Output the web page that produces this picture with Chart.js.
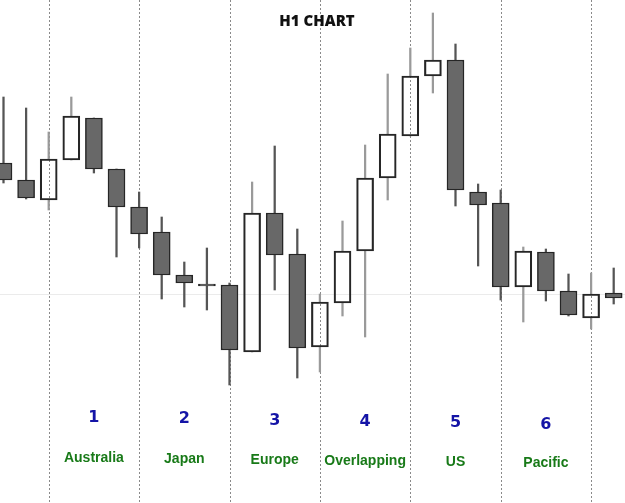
<!DOCTYPE html>
<html><head><meta charset="utf-8">
<style>html,body{margin:0;padding:0;background:#fff}#wrap{width:625px;height:503px;position:relative}</style>
</head><body>
<div id="wrap"><canvas id="c" width="625" height="503"></canvas></div>
<script src="https://cdn.jsdelivr.net/npm/chart.js@4/dist/chart.umd.min.js"></script>
<script>
// H1 candles (price)
const opens  = [1.2131,1.2114,1.2094,1.2134,1.2176,1.2125,1.2087,1.2062,1.2019,1.2010,1.2009,1.1942,1.2081,1.2040,1.1947,1.1991,1.2043,1.2116,1.2158,1.2218,1.2234,1.2102,1.2091,1.2007,1.2042,1.2003,1.1976,1.2001];
const highs  = [1.2197,1.2186,1.2162,1.2197,1.2176,1.2125,1.2102,1.2077,1.2032,1.2046,1.2011,1.2112,1.2148,1.2065,1.2000,1.2073,1.2149,1.2220,1.2246,1.2281,1.2250,1.2110,1.2104,1.2047,1.2045,1.2020,1.2021,1.2026];
const lows   = [1.2111,1.2095,1.2084,1.2134,1.2121,1.2037,1.2046,1.1995,1.1987,1.1984,1.1909,1.1942,1.2004,1.1916,1.1922,1.1978,1.1957,1.2094,1.2158,1.2201,1.2088,1.2028,1.1994,1.1972,1.1993,1.1978,1.1965,1.1990];
const closes = [1.2114,1.2096,1.2135,1.2178,1.2125,1.2087,1.2060,1.2019,1.2011,1.2008,1.1944,1.2081,1.2039,1.1946,1.1992,1.2043,1.2116,1.2160,1.2218,1.2234,1.2104,1.2089,1.2007,1.2043,1.2003,1.1979,1.2000,1.1996];
const sessionNumbers = ['1','2','3','4','5','6'];
const sessionNames = ['Australia','Japan','Europe','Overlapping','US','Pacific'];
const sessionDividers = [2,6,10,14,18,22,26];
const sessionCenters = [4,8,12,16,20,24];
const referenceLevel = 1.2000;
const titleText = 'H1 CHART';

const bull = opens.map((o,i)=>closes[i] >= o);
const bodies = opens.map((o,i)=>({x:i, y:[o, closes[i]]}));
const upper = opens.map((o,i)=>({x:i, y:[Math.max(o,closes[i]), highs[i]]}));
const lower = opens.map((o,i)=>({x:i, y:[lows[i], Math.min(o,closes[i])]}));
const wickCol = bull.map(b=> b ? '#9a9a9a' : '#555555');

const overlay = {
  id:'overlay',
  beforeDatasetsDraw(chart){
    const {ctx, scales:{x,y}, width, height} = chart;
    ctx.save();
    const yr = Math.round(y.getPixelForValue(referenceLevel)) + 0.5;
    ctx.strokeStyle = '#ebebeb'; ctx.lineWidth = 1;
    ctx.beginPath(); ctx.moveTo(0,yr); ctx.lineTo(width,yr); ctx.stroke();
    ctx.strokeStyle = '#8a8a8a'; ctx.setLineDash([2,2]);
    sessionDividers.forEach(i=>{
      const px = Math.round(x.getPixelForValue(i)) + 0.5;
      ctx.beginPath(); ctx.moveTo(px,0); ctx.lineTo(px,height); ctx.stroke();
    });
    ctx.restore();
  },
  afterDraw(chart){
    const {ctx, scales:{x}} = chart;
    ctx.save();
    ctx.textAlign = 'center'; ctx.textBaseline = 'middle';
    ctx.fillStyle = '#111';
    ctx.font = '800 15px "Open Sans"';
    ctx.fillText(titleText, 317, 22);
    sessionCenters.forEach((c,k)=>{
      const px = x.getPixelForValue(c);
      ctx.fillStyle = '#1414a6';
      ctx.font = 'bold 16px "DejaVu Sans"';
      ctx.fillText(sessionNumbers[k], px, 418 + 1.3*k);
      ctx.fillStyle = '#187a18';
      ctx.font = 'bold 14px "Liberation Sans"';
      ctx.fillText(sessionNames[k], px, 458 + 1.0*k);
    });
    ctx.restore();
  }
};

new Chart(document.getElementById('c'), {
  type:'bar',
  data:{datasets:[
    {label:'body', data:bodies, backgroundColor: bull.map(b=> b ? 'rgba(255,255,255,0)' : '#686868'),
     borderColor:'#262626', borderWidth:1.5, borderSkipped:false, barThickness:17, grouped:false, order:0},
    {label:'upper', data:upper, backgroundColor: wickCol, borderWidth:0, barThickness:1.6, grouped:false, order:1},
    {label:'lower', data:lower, backgroundColor: wickCol, borderWidth:0, barThickness:1.6, grouped:false, order:2}
  ]},
  options:{
    responsive:false, animation:false,
    layout:{padding:0},
    plugins:{legend:{display:false}, tooltip:{enabled:false}, title:{display:false}},
    scales:{
      x:{type:'linear', display:false, min:-0.155, max:27.5, offset:false},
      y:{type:'linear', display:false, min:1.1791, max:1.2294}
    }
  },
  plugins:[overlay]
});
</script>
</body></html>
